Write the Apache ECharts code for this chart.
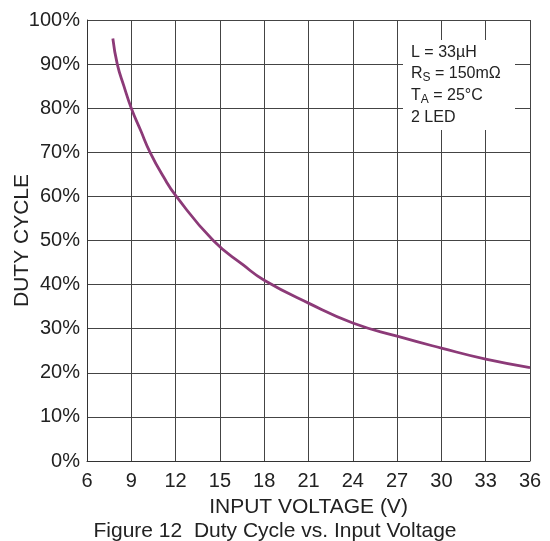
<!DOCTYPE html>
<html>
<head>
<meta charset="utf-8">
<script src="https://cdn.jsdelivr.net/npm/echarts@6/dist/echarts.min.js"></script>
<style>html,body{margin:0;padding:0;background:#fff}#c{width:550px;height:541px}</style>
</head>
<body>
<div id="c"></div>
<script>
const voltage = [7.75, 8.05, 8.5, 9, 9.63, 10.27, 11.17, 12.05, 14.55, 16.6, 18, 21, 24, 27, 30, 33, 36];
const dutyCycle = [95.8, 90, 85, 80, 75, 70, 64.5, 60, 50, 44.4, 41.0, 35.8, 31.3, 28.3, 25.6, 23.1, 21.2];
const xTicks = [6, 9, 12, 15, 18, 21, 24, 27, 30, 33, 36];
const yTicks = [0, 10, 20, 30, 40, 50, 60, 70, 80, 90, 100];

const font = 'Liberation Sans, Arial, sans-serif';
const chart = echarts.init(document.getElementById('c'), null, {renderer: 'canvas'});
chart.setOption({
  animation: false,
  title: {
    text: 'Figure 12  Duty Cycle vs. Input Voltage',
    left: 'center', top: 521, padding: 0,
    textStyle: {fontFamily: font, fontSize: 21, fontWeight: 'normal', color: '#222'}
  },
  grid: {left: 87, top: 20, right: 20, bottom: 80, containLabel: false, outerBoundsMode: 'none'},
  xAxis: {
    type: 'value', min: xTicks[0], max: xTicks[xTicks.length - 1], interval: 3,
    name: 'INPUT VOLTAGE (V)', nameLocation: 'middle', nameGap: 36, nameMoveOverlap: false,
    nameTextStyle: {fontFamily: font, fontSize: 21, color: '#222'},
    axisLine: {lineStyle: {color: '#333', width: 1}},
    axisTick: {show: false},
    axisLabel: {fontFamily: font, fontSize: 20, color: '#222', margin: 10},
    splitLine: {show: true, lineStyle: {color: '#444', width: 1}}
  },
  yAxis: {
    type: 'value', min: yTicks[0], max: yTicks[yTicks.length - 1], interval: 10,
    name: 'DUTY CYCLE', nameLocation: 'middle', nameGap: 54, nameMoveOverlap: false,
    nameTextStyle: {fontFamily: font, fontSize: 21, color: '#222'},
    axisLine: {show: true, lineStyle: {color: '#333', width: 1}},
    axisTick: {show: false},
    axisLabel: {fontFamily: font, fontSize: 20, color: '#222', margin: 7, formatter: '{value}%'},
    splitLine: {show: true, lineStyle: {color: '#444', width: 1}}
  },
  series: [{
    type: 'line',
    data: voltage.map((v, i) => [v, dutyCycle[i]]),
    smooth: 0.5,
    showSymbol: false,
    lineStyle: {color: '#8c3a78', width: 2.8},
    z: 5
  }],
  graphic: [
    {type: 'rect', shape: {x: 403, y: 40, width: 112, height: 90}, style: {fill: '#fff'}, z: 10},
    {type: 'text', left: 411, top: 45, z: 11,
      style: {text: 'L = 33µH', font: '16px ' + font, fill: '#222'}},
    {type: 'text', left: 411, top: 66, z: 11,
      style: {text: 'R{s|S} = 150mΩ', font: '16px ' + font, fill: '#222',
        rich: {s: {fontSize: 12, fontFamily: font, padding: [7, 0, 0, 0], fill: '#222'}}}},
    {type: 'text', left: 411, top: 88, z: 11,
      style: {text: 'T{s|A} = 25°C', font: '16px ' + font, fill: '#222',
        rich: {s: {fontSize: 12, fontFamily: font, padding: [7, 0, 0, 0], fill: '#222'}}}},
    {type: 'text', left: 411, top: 110, z: 11,
      style: {text: '2 LED', font: '16px ' + font, fill: '#222'}}
  ]
});
</script>
</body>
</html>
